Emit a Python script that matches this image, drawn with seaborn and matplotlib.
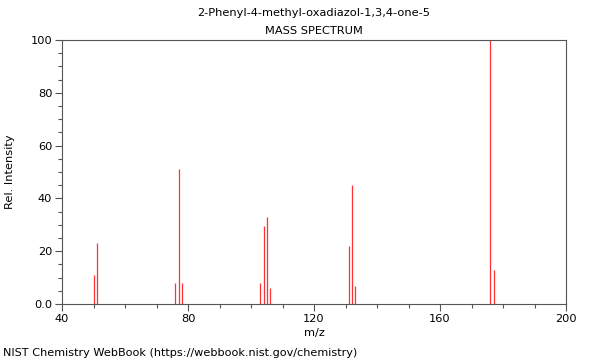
import matplotlib
matplotlib.use("Agg")
import matplotlib.pyplot as plt
from matplotlib.ticker import MultipleLocator, FuncFormatter
import seaborn as sns
import pandas as pd

# peaks
mz = [50, 51, 76, 77, 78, 103, 104, 105, 106, 131, 132, 133, 176, 177]
intensity = [11, 23, 8, 51, 8, 8, 29.5, 33, 6, 22, 45, 7, 100, 13]

title = "2-Phenyl-4-methyl-oxadiazol-1,3,4-one-5\nMASS SPECTRUM"
footer = "NIST Chemistry WebBook (https://webbook.nist.gov/chemistry)"

df = pd.DataFrame({"mz": mz, "intensity": intensity})

sns.set_theme(style="ticks")
plt.rcParams["font.family"] = ["DejaVu Sans"]
plt.rcParams["font.size"] = 8
plt.rcParams["text.color"] = "black"
plt.rcParams["axes.labelcolor"] = "black"
plt.rcParams["xtick.labelcolor"] = "black"
plt.rcParams["ytick.labelcolor"] = "black"

fig = plt.figure(figsize=(6, 3.6), dpi=100)
ax = fig.add_axes([62 / 600, 56 / 360, 504 / 600, 264 / 360])

ax.vlines(df["mz"], 0, df["intensity"], color="#ff3333", linewidth=0.9)

ax.set_xlim(40, 200)
ax.set_ylim(0, 100)
ax.xaxis.set_major_locator(MultipleLocator(40))
ax.xaxis.set_minor_locator(MultipleLocator(10))
ax.yaxis.set_major_locator(MultipleLocator(20))
ax.yaxis.set_minor_locator(MultipleLocator(5))
ax.yaxis.set_major_formatter(FuncFormatter(lambda v, p: "0.0" if v == 0 else f"{v:.0f}"))

for s in ax.spines.values():
    s.set_color("#555555")
    s.set_linewidth(0.8)
ax.tick_params(which="major", length=5, width=0.8, color="#555555", labelsize=8.2, pad=2)
ax.tick_params(which="minor", length=3, width=0.8, color="#555555")

ax.set_xlabel("m/z", fontsize=8.2, labelpad=3)
ax.set_ylabel("Rel. Intensity", fontsize=8.2, labelpad=11)
ax.set_title(title, fontsize=8.2, linespacing=2.0, pad=4)

fig.text(3 / 600, 1 - 353 / 360, footer, fontsize=8.1, va="center", ha="left")

fig.savefig("out.png", dpi=100)
